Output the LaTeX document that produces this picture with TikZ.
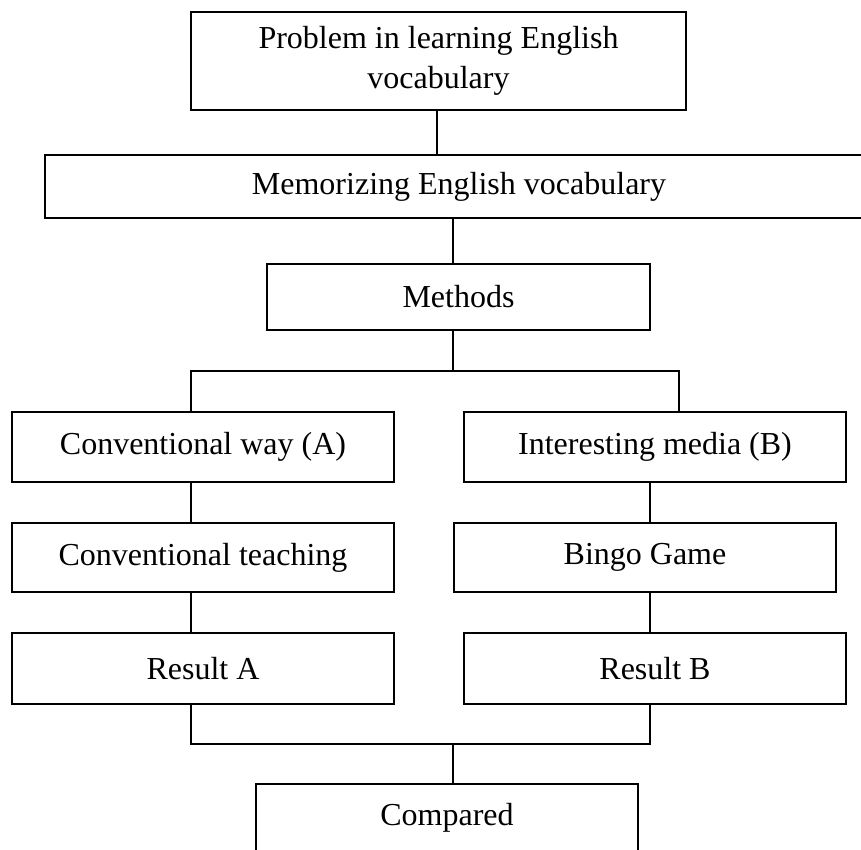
\documentclass[tikz,border=0pt]{standalone}
\usepackage{fontspec}
\setmainfont{Liberation Serif}
\begin{document}
\begin{tikzpicture}[x=1pt,y=-1pt,
  box/.style={draw, line width=1.4pt, rectangle, inner sep=0pt,
    font=\fontsize{32}{40}\selectfont, align=center},
  conn/.style={line width=1.4pt}]
\useasboundingbox (0,0) rectangle (861,849);
\clip (0,0) rectangle (861,849);
\fill[white] (0,0) rectangle (861,849);
% boxes
\node[box, minimum width=495pt, minimum height=98pt] (b1) at (438.5,61) {Problem in learning English\\vocabulary};
\node[box, minimum width=828pt, minimum height=63pt] (b2) at (459,186.5) {Memorizing English vocabulary};
\node[box, minimum width=383pt, minimum height=66pt] (b3) at (458.5,297) {Methods};
\node[box, minimum width=382pt, minimum height=70pt] (b4) at (203,447) {Conventional way (A)};
\node[box, minimum width=382pt, minimum height=70pt] (b5) at (655,447) {Interesting media (B)};
\node[box, minimum width=382pt, minimum height=69pt] (b6) at (203,557.5) {Conventional teaching};
\node[box, minimum width=382pt, minimum height=69pt] (b7) at (645,557.5) {Bingo Game};
\node[box, minimum width=382pt, minimum height=71pt] (b8) at (203,668.5) {Result A};
\node[box, minimum width=382pt, minimum height=71pt] (b9) at (655,668.5) {Result B};
\node[box, minimum width=382pt, minimum height=68pt] (b10) at (447,818) {Compared};
% helper coordinates
\coordinate (xt) at (437,0);
\coordinate (xc) at (453,0);
\coordinate (xl) at (191,0);
\coordinate (xr) at (679,0);
\coordinate (xrb) at (650,0);
\coordinate (split) at (453,371);
\coordinate (merge) at (453,744);
% connectors
\draw[conn] (xt |- b1.south) -- (xt |- b2.north);
\draw[conn] (xc |- b2.south) -- (xc |- b3.north);
\draw[conn] (xc |- b3.south) -- (split);
\draw[conn] (xl |- b4.north) -- (xl |- split) -- (xr |- split) -- (xr |- b5.north);
\draw[conn] (xl |- b4.south) -- (xl |- b6.north);
\draw[conn] (xrb |- b5.south) -- (xrb |- b7.north);
\draw[conn] (xl |- b6.south) -- (xl |- b8.north);
\draw[conn] (xrb |- b7.south) -- (xrb |- b9.north);
\draw[conn] (xl |- b8.south) -- (xl |- merge) -- (xrb |- merge) -- (xrb |- b9.south);
\draw[conn] (merge) -- (merge |- b10.north);
\end{tikzpicture}
\end{document}
